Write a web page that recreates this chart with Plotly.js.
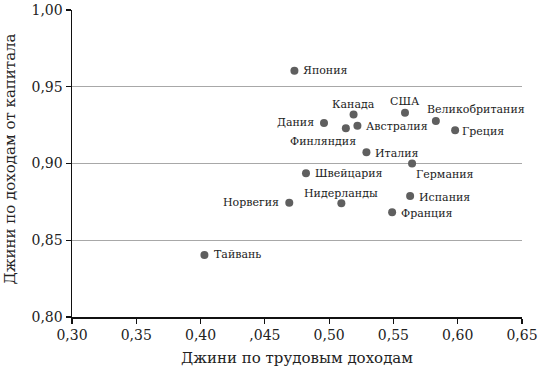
<!DOCTYPE html>
<html>
<head>
<meta charset="utf-8">
<script src="https://cdn.plot.ly/plotly-3.0.1.min.js"></script>
<style>html,body{margin:0;padding:0;background:#fff;}#chart{width:539px;height:372px;}</style>
</head>
<body>
<div id="chart"></div>
<script>
// Data
const countries = ["Япония","Канада","США","Великобритания","Дания","Финляндия","Австралия","Греция","Италия","Германия","Швейцария","Норвегия","Нидерланды","Испания","Франция","Тайвань"];
const labourGini = [0.473,0.519,0.559,0.583,0.496,0.513,0.522,0.598,0.529,0.5645,0.482,0.469,0.5095,0.563,0.549,0.403];
const capitalGini = [0.9605,0.932,0.933,0.9277,0.9264,0.923,0.9246,0.9216,0.9073,0.900,0.8936,0.8745,0.8741,0.8788,0.8682,0.8404];
const xTickVals = [0.30,0.35,0.40,0.45,0.50,0.55,0.60,0.65];
const xTickText = ["0,30","0,35","0,40",",045","0,50","0,55","0,60","0,65"];
const yTickVals = [0.80,0.85,0.90,0.95,1.00];
const yTickText = ["0,80","0,85","0,90","0,95","1,00"];

// Label placement (styling only)
const labAnchor = ["left","center","center","left","right","center","left","left","left","left","left","right","center","left","left","left"];
const labDx = [7,0,0,-11,-8,-23,7,5,7,2,7,-8,0,7,7,8];
const labDy = [0,10,11,11,0,-13,-1,-1,-1,-11,0,0,10,-1,-1,0];

const serif = "DejaVu Serif, Liberation Serif, serif";
const annotations = countries.map((c,i)=>({
  x: labourGini[i], y: capitalGini[i], xref:"x", yref:"y",
  text: c, showarrow:false, xanchor: labAnchor[i], yanchor:"middle",
  xshift: labDx[i], yshift: labDy[i],
  font:{family:serif,size:11,color:"#222"}
}));
annotations.push({
  xref:"paper", yref:"paper", x:-0.138, y:0.516, xanchor:"center", yanchor:"middle",
  text:"Джини по доходам от капитала", textangle:-90, showarrow:false,
  font:{family:serif,size:15,color:"#222"}
});

Plotly.newPlot("chart",[{
  type:"scatter", mode:"markers", x:labourGini, y:capitalGini,
  marker:{size:8,color:"#5f5f5f"}, hoverinfo:"skip"
}],{
  width:539, height:372,
  margin:{l:72,r:17,t:10,b:55},
  paper_bgcolor:"#fff", plot_bgcolor:"#fff",
  showlegend:false,
  xaxis:{
    range:[0.30,0.65001], tickvals:xTickVals, ticktext:xTickText,
    ticklabeloverflow:"allow",
    showgrid:false, zeroline:false, showline:true, linecolor:"#111", linewidth:1.5,
    ticks:"outside", ticklen:5, tickcolor:"#111", tickwidth:1.2,
    tickfont:{family:serif,size:14,color:"#222"},
    title:{text:"Джини по трудовым доходам", font:{family:serif,size:15,color:"#222"}, standoff:10}
  },
  yaxis:{
    range:[0.80,1.00], tickvals:yTickVals, ticktext:yTickText,
    showgrid:true, gridcolor:"#a8a8a8", gridwidth:1,
    zeroline:false, showline:true, linecolor:"#111", linewidth:1.5,
    ticks:"outside", ticklen:5, tickcolor:"#111", tickwidth:1.2,
    tickfont:{family:serif,size:14,color:"#222"}
  },
  annotations:annotations
},{staticPlot:true});
</script>
</body>
</html>
